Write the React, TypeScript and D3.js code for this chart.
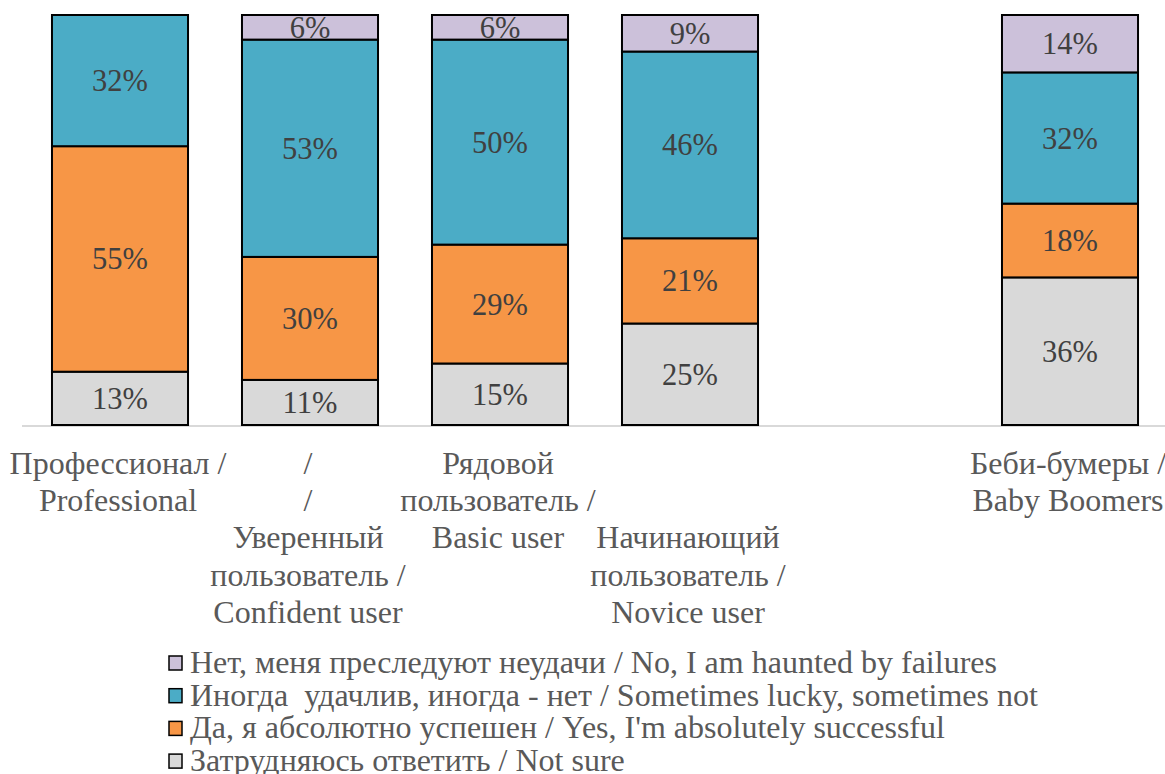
import React from 'react'
import * as d3 from 'd3'

const categories = ['prof', 'conf', 'basic', 'novice', 'gap', 'boomers']
const categoryLines: string[][] = [
  ['Профессионал /', 'Professional'],
  ['/', '/', 'Уверенный', 'пользователь /', 'Confident user'],
  ['Рядовой', 'пользователь /', 'Basic user'],
  ['', '', 'Начинающий', 'пользователь /', 'Novice user'],
  [],
  ['Беби-бумеры /', 'Baby Boomers'],
]

// bottom to top
const notSure = [13, 11, 15, 25, 0, 36]
const yesSuccess = [55, 30, 29, 21, 0, 18]
const sometimes = [32, 53, 50, 46, 0, 32]
const failures = [0, 6, 6, 9, 0, 14]

const seriesKeys = ['notSure', 'yes', 'sometimes', 'failures']
const seriesColors = ['#d9d9d9', '#f79646', '#4bacc6', '#ccc1da']
const legendItems = [
  { label: 'Нет, меня преследуют неудачи / No, I am haunted by failures', color: '#ccc1da' },
  { label: 'Иногда  удачлив, иногда - нет / Sometimes lucky, sometimes not', color: '#4bacc6' },
  { label: 'Да, я абсолютно успешен / Yes, I\'m absolutely successful', color: '#f79646' },
  { label: 'Затрудняюсь ответить / Not sure', color: '#d9d9d9' },
]

const top = 15
const bottom = 425
const ff = { fontFamily: "'Liberation Serif'" }

export default function App() {
  const rows = categories.map((c, i) => ({
    cat: c,
    notSure: notSure[i],
    yes: yesSuccess[i],
    sometimes: sometimes[i],
    failures: failures[i],
  }))
  const series = d3.stack<any>().keys(seriesKeys).offset(d3.stackOffsetExpand)(rows)

  const x = d3.scaleBand().domain(categories).range([25, 1165]).paddingInner(0.284).paddingOuter(0.142)
  const y = d3.scaleLinear().domain([0, 1]).range([bottom, top])
  const values = [notSure, yesSuccess, sometimes, failures]

  return (
    <svg width={1165} height={774} style={{ position: 'absolute', left: 0, top: 0, background: '#fff' }}>
      <line x1={22} x2={1165} y1={bottom + 1} y2={bottom + 1} stroke="#d9d9d9" strokeWidth={2} />
      {series.map((s, si) => (
        <g key={si}>
          {s.map((d, ci) => {
            const v = values[si][ci]
            if (!v) return null
            const x0 = x(categories[ci])!
            const y0 = y(d[1])
            const y1 = y(d[0])
            return (
              <g key={ci}>
                <rect x={x0} y={y0} width={x.bandwidth()} height={y1 - y0} fill={seriesColors[si]} stroke="#000" strokeWidth={2} />
                <text x={x0 + x.bandwidth() / 2} y={(y0 + y1) / 2 + 10.5} textAnchor="middle" fontSize={30.5} fill="#404040" style={ff}>
                  {v + '%'}
                </text>
              </g>
            )
          })}
        </g>
      ))}
      {categoryLines.map((lines, ci) =>
        lines.map((l, li) => (
          <text key={ci + '-' + li} x={x(categories[ci])! + x.bandwidth() / 2 - 2} y={474 + li * 37.2} textAnchor="middle" fontSize={32} fill="#595959" style={ff}>
            {l}
          </text>
        ))
      )}
      {legendItems.map((it, i) => (
        <g key={i}>
          <rect x={169} y={656 + i * 32.7} width={13} height={14} fill={it.color} stroke="#000" strokeWidth={1.5} />
          <text x={190} y={673 + i * 32.7} fontSize={32} fill="#595959" style={{ ...ff, whiteSpace: 'pre' }}>
            {it.label}
          </text>
        </g>
      ))}
    </svg>
  )
}
